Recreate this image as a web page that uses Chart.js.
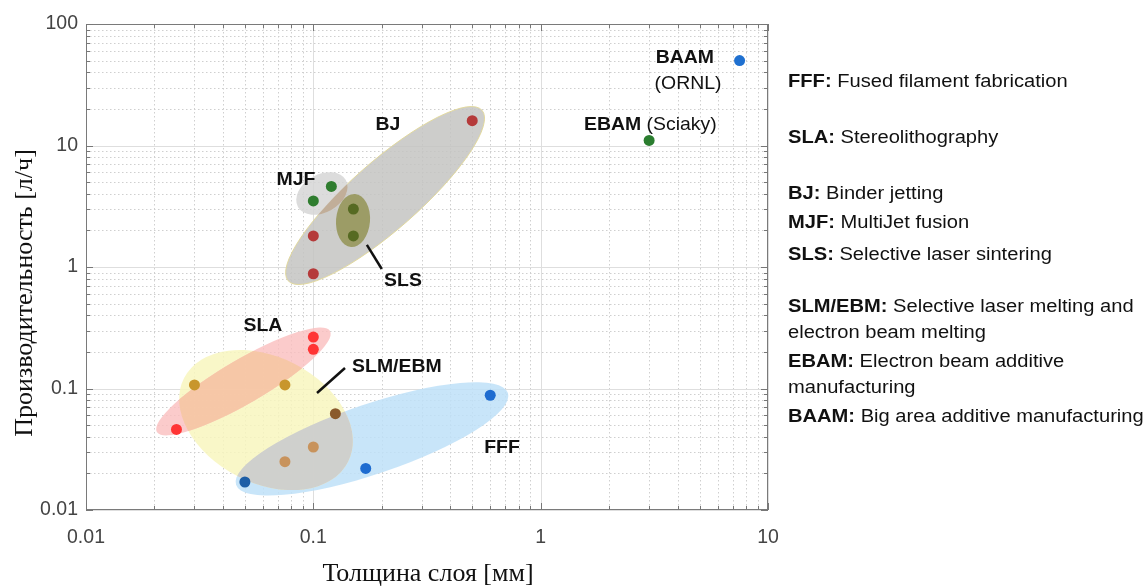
<!DOCTYPE html>
<html><head><meta charset="utf-8">
<script src="https://cdn.jsdelivr.net/npm/chart.js@4.4.1/dist/chart.umd.min.js"></script>
<style>html,body{margin:0;padding:0;background:#fff;}canvas{display:block;}</style>
</head><body>
<canvas id="c" width="1146" height="586" style="width:1146px;height:586px"></canvas>
<script>
// ---------- data ----------
const X_TICKS = [0.01, 0.1, 1, 10];
const X_TICK_LABELS = ['0.01', '0.1', '1', '10'];
const Y_TICKS = [0.01, 0.1, 1, 10, 100];
const Y_TICK_LABELS = ['0.01', '0.1', '1', '10', '100'];

const FFF_X = [0.05, 0.17, 0.6],            FFF_Y = [0.017, 0.022, 0.088];
const SLA_X = [0.025, 0.1, 0.1],            SLA_Y = [0.046, 0.21, 0.265];
const SLM_X = [0.03, 0.075, 0.125, 0.1, 0.075], SLM_Y = [0.107, 0.107, 0.062, 0.033, 0.025];
const BJ_X  = [0.1, 0.1, 0.5],              BJ_Y  = [0.88, 1.8, 16];
const MJF_X = [0.1, 0.12],                  MJF_Y = [3.5, 4.6];
const SLS_X = [0.15, 0.15],                 SLS_Y = [1.8, 3.0];
const EBAM_X = [3],                         EBAM_Y = [11];
const BAAM_X = [7.5],                       BAAM_Y = [50];

const X_TITLE = 'Толщина слоя [мм]';
const Y_TITLE = 'Производительность [л/ч]';

const LEGEND_ABBR = ['FFF:', 'SLA:', 'BJ:', 'MJF:', 'SLS:', 'SLM/EBM:', '', 'EBAM:', '', 'BAAM:'];
const LEGEND_TEXT = [' Fused filament fabrication', ' Stereolithography', ' Binder jetting', ' MultiJet fusion',
  ' Selective laser sintering', ' Selective laser melting and', 'electron beam melting',
  ' Electron beam additive', 'manufacturing', ' Big area additive manufacturing'];

// ---------- annotation geometry (data-anchored) ----------
const REGIONS = {
  FFF: {p1: [0.0457, 0.0161], p2: [0.718, 0.0918], b: 35, fill: 'rgba(190,225,248,0.85)'},
  SLM: {p1: [0.027, 0.122],   p2: [0.142, 0.0248], b: 63, fill: 'rgba(248,246,190,0.85)'},
  SLA: {p1: [0.0205, 0.0439], p2: [0.1184, 0.2974], b: 22, fill: 'rgba(250,190,190,0.8)'},
  BJ:  {p1: [0.0775, 0.77],   p2: [0.552, 19.5],   b: 34, fill: 'rgba(196,196,194,0.85)', stroke: 'rgba(225,215,150,0.9)'},
  MJF: {p1: [0.0856, 3.12],   p2: [0.139, 5.2],    b: 19, fill: 'rgba(214,214,214,0.85)'},
  SLS: {p1: [0.1526, 3.99],   p2: [0.1464, 1.46],  b: 17, fill: 'rgba(140,140,70,0.75)'}
};
const OVERLAPS = [
  {clip: 'FFF', shape: 'SLM', fill: 'rgba(205,205,205,0.95)', after: 'SLM'},
  {clip: 'SLM', shape: 'SLA', fill: 'rgba(246,200,165,0.9)', after: 'SLA'},
  {clip: 'BJ',  shape: 'MJF', fill: 'rgba(192,172,150,0.95)', after: 'MJF'}
];
const LABELS = [
  {parts: [['BAAM', true]], at: [4.31, 52.5], align: 'center'},
  {parts: [['(ORNL)', false]], at: [4.45, 32], align: 'center'},
  {parts: [['EBAM', true], [' (Sciaky)', false]], at: [1.55, 14.8], align: 'left'},
  {parts: [['BJ', true]], at: [0.213, 14.8], align: 'center'},
  {parts: [['MJF', true]], at: [0.0839, 5.2], align: 'center'},
  {parts: [['SLS', true]], at: [0.248, 0.767], align: 'center'},
  {parts: [['SLA', true]], at: [0.060, 0.327], align: 'center'},
  {parts: [['SLM/EBM', true]], at: [0.233, 0.150], align: 'center'},
  {parts: [['FFF', true]], at: [0.676, 0.0324], align: 'center'}
];
const LEADERS = [
  [[0.172, 1.52], [0.2, 0.963]],
  [[0.1038, 0.0918], [0.1378, 0.1475]]
];
const LEGEND_Y = [82, 138, 194, 223, 255, 307, 333, 362, 388, 417];

const FONT = '"Liberation Sans", Arial, sans-serif';
const SERIF = '"Liberation Serif", "Times New Roman", serif';

function pts(xs, ys) { return xs.map((x, i) => ({x: x, y: ys[i]})); }

function ellPath(ctx, r, xs, ys) {
  const x1 = xs.getPixelForValue(r.p1[0]), y1 = ys.getPixelForValue(r.p1[1]);
  const x2 = xs.getPixelForValue(r.p2[0]), y2 = ys.getPixelForValue(r.p2[1]);
  const a = Math.hypot(x2 - x1, y2 - y1) / 2, ang = Math.atan2(y2 - y1, x2 - x1);
  ctx.beginPath();
  ctx.ellipse((x1 + x2) / 2, (y1 + y2) / 2, a, r.b, ang, 0, Math.PI * 2);
}

function drawRich(ctx, parts, x, y, align, size, sx) {
  ctx.save();
  ctx.translate(x, y);
  ctx.scale(sx, 1);
  ctx.textBaseline = 'middle';
  ctx.textAlign = 'left';
  let W = 0;
  parts.forEach(p => { ctx.font = (p[1] ? 'bold ' : '') + size + 'px ' + FONT; W += ctx.measureText(p[0]).width; });
  let cx = align === 'center' ? -W / 2 : 0;
  parts.forEach(p => {
    ctx.font = (p[1] ? 'bold ' : '') + size + 'px ' + FONT;
    ctx.fillText(p[0], cx, 0);
    cx += ctx.measureText(p[0]).width;
  });
  ctx.restore();
}

function minorValues(lo, hi) {
  const out = [];
  for (let d = lo; d < hi * 0.999; d *= 10) for (let m = 2; m <= 9; m++) out.push(d * m);
  return out;
}

const deco = {
  id: 'deco',
  beforeDatasetsDraw(chart) {
    const ctx = chart.ctx, a = chart.chartArea, xs = chart.scales.x, ys = chart.scales.y;
    ctx.save();
    // minor grid
    ctx.lineWidth = 1;
    ctx.strokeStyle = '#cfcfcf';
    ctx.setLineDash([1.5, 2.5]);
    minorValues(0.01, 10).forEach(v => {
      const p = Math.round(xs.getPixelForValue(v)) + 0.5;
      ctx.beginPath(); ctx.moveTo(p, a.top); ctx.lineTo(p, a.bottom); ctx.stroke();
    });
    minorValues(0.01, 100).forEach(v => {
      const p = Math.round(ys.getPixelForValue(v)) + 0.5;
      ctx.beginPath(); ctx.moveTo(a.left, p); ctx.lineTo(a.right, p); ctx.stroke();
    });
    ctx.setLineDash([]);
    ctx.strokeStyle = '#dedede';
    X_TICKS.forEach(v => {
      const p = Math.round(xs.getPixelForValue(v)) + 0.5;
      ctx.beginPath(); ctx.moveTo(p, a.top); ctx.lineTo(p, a.bottom); ctx.stroke();
    });
    Y_TICKS.forEach(v => {
      const p = Math.round(ys.getPixelForValue(v)) + 0.5;
      ctx.beginPath(); ctx.moveTo(a.left, p); ctx.lineTo(a.right, p); ctx.stroke();
    });
    // regions
    const drawOverlap = name => {
      OVERLAPS.filter(o => o.after === name).forEach(o => {
        ctx.save();
        ellPath(ctx, REGIONS[o.clip], xs, ys); ctx.clip();
        ellPath(ctx, REGIONS[o.shape], xs, ys);
        ctx.fillStyle = o.fill; ctx.fill();
        ctx.restore();
      });
    };
    ['FFF', 'SLM', 'SLA', 'BJ', 'MJF', 'SLS'].forEach(n => {
      const r = REGIONS[n];
      ellPath(ctx, r, xs, ys);
      ctx.fillStyle = r.fill; ctx.fill();
      if (r.stroke) { ctx.strokeStyle = r.stroke; ctx.lineWidth = 1; ctx.stroke(); }
      drawOverlap(n);
    });
    ctx.restore();
  },
  afterDatasetsDraw(chart) {
    const ctx = chart.ctx, a = chart.chartArea, xs = chart.scales.x, ys = chart.scales.y;
    ctx.save();
    // box
    ctx.strokeStyle = '#7a7a7a'; ctx.lineWidth = 1;
    ctx.strokeRect(a.left + 0.5, a.top + 0.5, a.right - a.left - 1, a.bottom - a.top - 1);
    // tick marks
    ctx.strokeStyle = '#777';
    const tx = (v, len) => {
      const p = Math.round(xs.getPixelForValue(v)) + 0.5;
      ctx.beginPath(); ctx.moveTo(p, a.bottom); ctx.lineTo(p, a.bottom - len);
      ctx.moveTo(p, a.top); ctx.lineTo(p, a.top + len); ctx.stroke();
    };
    const ty = (v, len) => {
      const p = Math.round(ys.getPixelForValue(v)) + 0.5;
      ctx.beginPath(); ctx.moveTo(a.left, p); ctx.lineTo(a.left + len, p);
      ctx.moveTo(a.right, p); ctx.lineTo(a.right - len, p); ctx.stroke();
    };
    X_TICKS.forEach(v => tx(v, 7)); minorValues(0.01, 10).forEach(v => tx(v, 4));
    Y_TICKS.forEach(v => ty(v, 7)); minorValues(0.01, 100).forEach(v => ty(v, 4));
    // leader lines
    ctx.strokeStyle = '#111'; ctx.lineWidth = 2.5;
    LEADERS.forEach(l => {
      ctx.beginPath();
      ctx.moveTo(xs.getPixelForValue(l[0][0]), ys.getPixelForValue(l[0][1]));
      ctx.lineTo(xs.getPixelForValue(l[1][0]), ys.getPixelForValue(l[1][1]));
      ctx.stroke();
    });
    // labels
    ctx.fillStyle = '#111';
    LABELS.forEach(l => drawRich(ctx, l.parts, xs.getPixelForValue(l.at[0]), ys.getPixelForValue(l.at[1]), l.align, 18.5, 1.05));
    // legend
    LEGEND_ABBR.forEach((abbr, i) => {
      const parts = [];
      if (abbr) parts.push([abbr, true]);
      parts.push([LEGEND_TEXT[i], false]);
      drawRich(ctx, parts, 788, LEGEND_Y[i], 'left', 17.5, 1.15);
    });
    // axis titles
    ctx.fillStyle = '#111';
    ctx.font = '26px ' + SERIF;
    ctx.textAlign = 'center'; ctx.textBaseline = 'middle';
    ctx.fillText(X_TITLE, 428, 574);
    ctx.save();
    ctx.translate(25, 293);
    ctx.rotate(-Math.PI / 2);
    ctx.fillText(Y_TITLE, 0, 0);
    ctx.restore();
    ctx.restore();
  }
};

const tickFont = {family: FONT, size: 19.5};
new Chart(document.getElementById('c'), {
  type: 'scatter',
  data: {
    datasets: [
      {label: 'FFF', data: pts(FFF_X, FFF_Y), pointBackgroundColor: ['#1d5ea6', '#1f6cd0', '#1f6cd0']},
      {label: 'SLA', data: pts(SLA_X, SLA_Y), pointBackgroundColor: '#ff3535'},
      {label: 'SLM/EBM', data: pts(SLM_X, SLM_Y), pointBackgroundColor: ['#c8962c', '#c8962c', '#8a5a2c', '#c8935c', '#c8935c']},
      {label: 'BJ', data: pts(BJ_X, BJ_Y), pointBackgroundColor: '#b53a3a'},
      {label: 'MJF', data: pts(MJF_X, MJF_Y), pointBackgroundColor: '#2f7d2f'},
      {label: 'SLS', data: pts(SLS_X, SLS_Y), pointBackgroundColor: '#566a22'},
      {label: 'EBAM', data: pts(EBAM_X, EBAM_Y), pointBackgroundColor: '#2a7d2f'},
      {label: 'BAAM', data: pts(BAAM_X, BAAM_Y), pointBackgroundColor: '#1f70d0'}
    ]
  },
  options: {
    responsive: false,
    animation: false,
    layout: {padding: {left: 0, right: 378, top: 24, bottom: 0}},
    elements: {point: {radius: 5.5, borderWidth: 0, hoverRadius: 5.5}},
    plugins: {legend: {display: false}, tooltip: {enabled: false}},
    scales: {
      x: {
        type: 'logarithmic', min: 0.01, max: 10,
        afterBuildTicks: s => { s.ticks = X_TICKS.map(v => ({value: v})); },
        afterFit: s => { s.height = 76; },
        grid: {display: false}, border: {display: false},
        ticks: {autoSkip: false, maxRotation: 0, padding: 8, color: '#444', font: tickFont,
          callback: (v, i) => X_TICK_LABELS[i]}
      },
      y: {
        type: 'logarithmic', min: 0.01, max: 100,
        afterBuildTicks: s => { s.ticks = Y_TICKS.map(v => ({value: v})); },
        afterFit: s => { s.width = 86; },
        grid: {display: false}, border: {display: false},
        ticks: {autoSkip: false, padding: 0, color: '#444', font: tickFont,
          callback: (v, i) => Y_TICK_LABELS[i]}
      }
    }
  },
  plugins: [deco]
});
</script>
</body></html>
